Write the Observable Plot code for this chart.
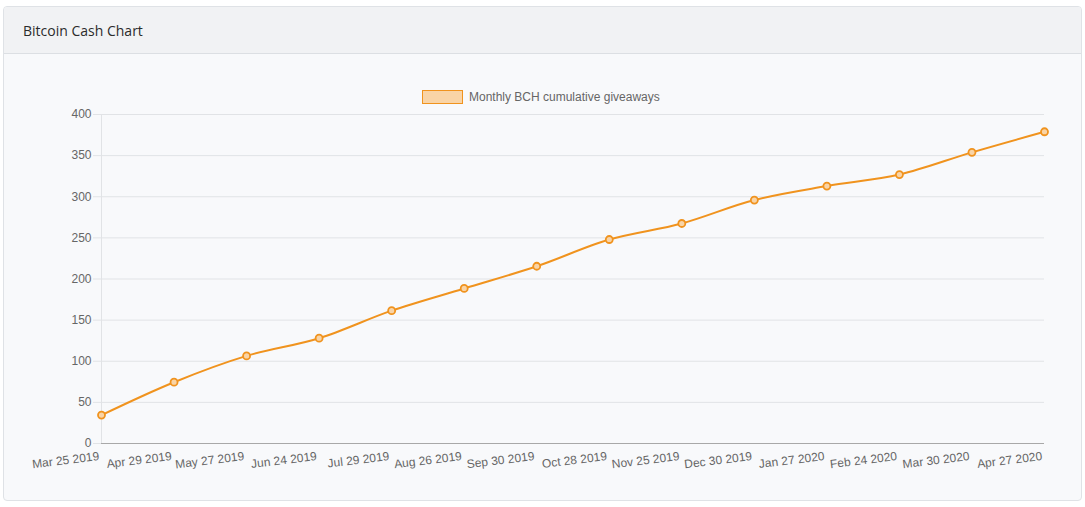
<!DOCTYPE html>
<html>
<head>
<meta charset="utf-8">
<script src="https://cdn.jsdelivr.net/npm/d3@7"></script>
<script src="https://cdn.jsdelivr.net/npm/@observablehq/plot@0.6"></script>
<style>
  html, body { margin: 0; padding: 0; background: #ffffff; width: 1085px; height: 507px; overflow: hidden; }
  #card { position: absolute; left: 3px; top: 6px; width: 1077px; height: 493px; border: 1px solid #dfe2e6; border-radius: 4px; background: #f8f9fb; overflow: hidden; }
  #header { position: absolute; left: 0; top: 0; width: 100%; height: 46px; background: #f1f2f4; border-bottom: 1px solid #dcdfe3; }
  #title { position: absolute; left: 19px; top: 14px; font-family: "Open Sans", sans-serif; font-size: 14px; color: #2b2b2b; }
  #legend { position: absolute; left: 422px; top: 90px; display: flex; align-items: center; font-family: "Liberation Sans", Arial, sans-serif; font-size: 12px; color: #666; }
  #legend .box { width: 39px; height: 12px; background: #f9d4a6; border: 1px solid #f0931e; margin-right: 6px; }
  #chart { position: absolute; left: 0; top: 105px; width: 1085px; }
  #chart svg { display: block; max-width: none; }
</style>
</head>
<body>
<div id="card">
  <div id="header"><div id="title">Bitcoin Cash Chart</div></div>
</div>
<div id="legend"><div class="box"></div><span id="legend-label"></span></div>
<div id="chart"></div>
<script>
const seriesName = "Monthly BCH cumulative giveaways";
const dates = ["Mar 25 2019","Apr 29 2019","May 27 2019","Jun 24 2019","Jul 29 2019","Aug 26 2019","Sep 30 2019","Oct 28 2019","Nov 25 2019","Dec 30 2019","Jan 27 2020","Feb 24 2020","Mar 30 2020","Apr 27 2020"];
const values = [34.5, 74.5, 106.5, 128, 161.5, 188.5, 215.5, 248, 267.5, 296, 313, 327, 354, 379];
const yTicks = [0, 50, 100, 150, 200, 250, 300, 350, 400];

document.getElementById("legend-label").textContent = seriesName;
const data = dates.map((d, i) => ({date: d, value: values[i]}));

const lineColor = "#f0931e";
const chart = Plot.plot({
  width: 1085,
  height: 370,
  marginTop: 9,
  marginBottom: 32,
  marginLeft: 101,
  marginRight: 41,
  style: {background: "transparent", fontFamily: "Liberation Sans, Arial, sans-serif", fontSize: "12px", color: "#666"},
  x: {type: "point", domain: dates, padding: 0, round: false, label: null},
  y: {domain: [0, 400], ticks: yTicks, label: null},
  marks: [
    Plot.gridY(yTicks.slice(1), {stroke: "#e1e3e6", strokeOpacity: 1}),
    Plot.ruleX([dates[0]], {stroke: "#e1e3e6", strokeOpacity: 1}),
    Plot.axisY(yTicks, {tickSize: 8, tickPadding: 2, stroke: "#e1e3e6", fill: "#666", fontSize: 12, label: null}),
    Plot.axisX({tickSize: 0, tickPadding: 8, tickRotate: -7, textAnchor: "end", dx: -3, fill: "#666", fontSize: 12, label: null}),
    Plot.ruleY([0], {stroke: "#a8a8a8", strokeWidth: 1}),
    Plot.line(data, {x: "date", y: "value", stroke: lineColor, strokeWidth: 2, curve: "catmull-rom"}),
    Plot.dot(data, {x: "date", y: "value", r: 3.5, fill: "#f9d4a6", stroke: lineColor, strokeWidth: 1.8})
  ]
});
document.getElementById("chart").appendChild(chart);
</script>
</body>
</html>
